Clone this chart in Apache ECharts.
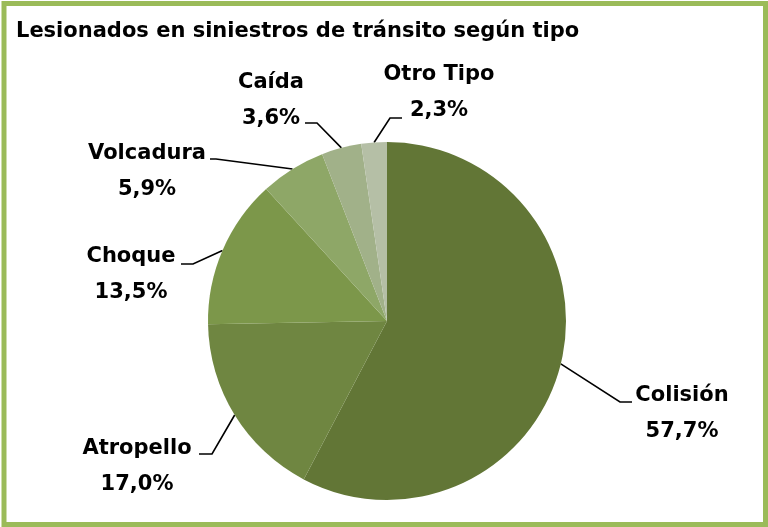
<!DOCTYPE html>
<html>
<head>
<meta charset="utf-8">
<script src="https://cdn.jsdelivr.net/npm/echarts@6/dist/echarts.min.js"></script>
<style>
  html, body { margin: 0; padding: 0; background: #fff; }
  #chart { width: 768px; height: 527px; }
</style>
</head>
<body>
<div id="chart"></div>
<script>
// datos (porcentajes)
const categories = ['Colisión', 'Atropello', 'Choque', 'Volcadura', 'Caída', 'Otro Tipo'];
const values = [57.7, 17.0, 13.5, 5.9, 3.6, 2.3];

const sliceColors = ['#627636', '#6f8641', '#7c974a', '#8ea767', '#a1b189', '#b5bfa6'];

// posición de etiquetas: centro del texto, codo y final de la línea guía
const labelSpots = [
    { x: 682, y: 414, elbow: [620, 402], end: [632, 402] },
    { x: 137, y: 467, elbow: [212, 454], end: [199, 454] },
    { x: 131, y: 275, elbow: [193, 264], end: [181, 264] },
    { x: 147, y: 172, elbow: [216, 159], end: [210, 159] },
    { x: 271, y: 101, elbow: [317, 123], end: [305, 123] },
    { x: 439, y: 93, elbow: [390, 118], end: [402, 118] }
];

const fontFamily = '"DejaVu Sans", sans-serif';

const chart = echarts.init(document.getElementById('chart'));

const option = {
    animation: false,
    title: {
        text: 'Lesionados en siniestros de tránsito según tipo',
        left: 11,
        top: 16,
        textStyle: {
            fontFamily,
            fontSize: 21,
            fontWeight: 'bold',
            color: '#000'
        }
    },
    graphic: [{
        type: 'rect',
        shape: { x: 4, y: 3.5, width: 761.5, height: 521 },
        style: { fill: 'none', stroke: '#9bbb59', lineWidth: 5 },
        silent: true
    }],
    series: [{
        type: 'pie',
        center: [387, 321],
        radius: 179,
        startAngle: 90,
        clockwise: true,
        data: categories.map((name, i) => ({
            name,
            value: values[i],
            itemStyle: { color: sliceColors[i] }
        })),
        label: {
            show: true,
            position: 'outside',
            formatter: p => p.name + '\n' + p.value.toFixed(1).replace('.', ',') + '%',
            fontFamily,
            fontSize: 21,
            fontWeight: 'bold',
            lineHeight: 36,
            color: '#000',
            align: 'center'
        },
        labelLine: {
            show: true,
            lineStyle: { color: '#000', width: 1.6 }
        },
        labelLayout: params => {
            const s = labelSpots[params.dataIndex];
            return {
                x: s.x,
                y: s.y,
                align: 'center',
                verticalAlign: 'middle',
                labelLinePoints: [params.labelLinePoints[0], s.elbow, s.end]
            };
        },
        emphasis: { disabled: true }
    }]
};

chart.setOption(option);
</script>
</body>
</html>
